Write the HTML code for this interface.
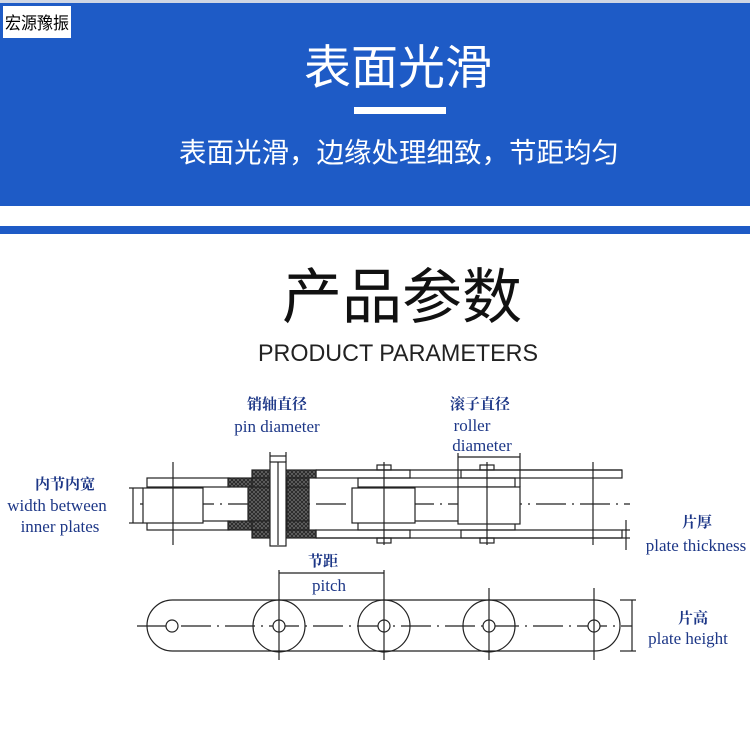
<!DOCTYPE html>
<html><head><meta charset="utf-8"><style>
html,body{margin:0;padding:0;background:#fff;width:750px;height:750px;overflow:hidden}
</style></head><body>
<svg width="750" height="750" viewBox="0 0 750 750" xmlns="http://www.w3.org/2000/svg">
<defs>
<pattern id="h" width="4" height="4" patternUnits="userSpaceOnUse">
<rect width="4" height="4" fill="#666"/><path d="M0 4L4 0M0 0L4 4" stroke="#222" stroke-width="0.8"/>
</pattern>
</defs>
<rect x="0" y="0" width="750" height="3" fill="#cfd6e4"/>
<rect x="0" y="3" width="750" height="203" fill="#1e5bc6"/>
<rect x="0" y="226" width="750" height="8" fill="#1e5bc6"/>
<rect x="3" y="6" width="68" height="32" fill="#fff"/>
<text x="37" y="29" font-size="17" text-anchor="middle" fill="#000" font-family="Liberation Sans,Noto Sans CJK SC,sans-serif" textLength="64" lengthAdjust="spacingAndGlyphs">宏源豫振</text>
<text x="398" y="84" font-size="47" text-anchor="middle" fill="#fff" font-family="Liberation Sans,Noto Sans CJK SC,sans-serif">表面光滑</text>
<rect x="354" y="107" width="92" height="7" fill="#fff"/>
<text x="399" y="162" font-size="27.5" text-anchor="middle" fill="#fff" font-family="Liberation Sans,Noto Sans CJK SC,sans-serif">表面光滑，边缘处理细致，节距均匀</text>
<text x="402" y="318" font-size="60" text-anchor="middle" fill="#111" font-family="Liberation Sans,Noto Sans CJK SC,sans-serif">产品参数</text>
<text x="398" y="361" font-size="24" text-anchor="middle" fill="#222" font-family="Liberation Sans,sans-serif" textLength="280" lengthAdjust="spacingAndGlyphs">PRODUCT PARAMETERS</text>

<g font-family="Liberation Serif,Noto Serif CJK SC,serif" fill="#1d3787" font-size="17" text-anchor="middle">
<text x="277" y="409" font-weight="bold" font-size="15">销轴直径</text>
<text x="277" y="432">pin diameter</text>
<text x="480" y="409" font-weight="bold" font-size="15">滚子直径</text>
<text x="472" y="431">roller</text>
<text x="482" y="451">diameter</text>
<text x="65" y="489" font-weight="bold" font-size="15">内节内宽</text>
<text x="57" y="511">width between</text>
<text x="60" y="532">inner plates</text>
<text x="697" y="527" font-weight="bold" font-size="15">片厚</text>
<text x="696" y="551">plate thickness</text>
<text x="323" y="566" font-weight="bold" font-size="15">节距</text>
<text x="329" y="591">pitch</text>
<text x="693" y="623" font-weight="bold" font-size="15">片高</text>
<text x="688" y="644">plate height</text>
</g>

<g stroke="#222" stroke-width="1.2" fill="none">
<line x1="140" y1="504" x2="630" y2="504" stroke-dasharray="30,6,2,6"/>
<rect x="316" y="470" width="94" height="8"/>
<line x1="316" y1="470" x2="622" y2="470"/>
<rect x="461" y="470" width="161" height="8"/>
<rect x="316" y="530" width="94" height="8"/>
<line x1="316" y1="538" x2="622" y2="538"/>
<rect x="461" y="530" width="161" height="8"/>
<rect x="147" y="478" width="82" height="9"/>
<rect x="147" y="521" width="82" height="9"/>
<rect x="358" y="478" width="157" height="9"/>
<rect x="358" y="521" width="157" height="9"/>
<rect x="143" y="488" width="60" height="35" fill="#fff"/>
<rect x="352" y="488" width="63" height="35" fill="#fff"/>
<rect x="458" y="487" width="62" height="37" fill="#fff"/>
<rect x="228" y="478" width="40" height="9" fill="url(#h)"/>
<rect x="228" y="521" width="40" height="9" fill="url(#h)"/>
<rect x="252" y="470" width="64" height="8" fill="url(#h)"/>
<rect x="252" y="530" width="64" height="8" fill="url(#h)"/>
<rect x="248" y="487" width="22" height="34" fill="url(#h)"/>
<rect x="287" y="487" width="22" height="34" fill="url(#h)"/>
<rect x="252" y="478" width="18" height="9" fill="url(#h)"/>
<rect x="287" y="478" width="22" height="9" fill="url(#h)"/>
<rect x="252" y="521" width="18" height="9" fill="url(#h)"/>
<rect x="287" y="521" width="22" height="9" fill="url(#h)"/>
<rect x="270" y="462" width="16" height="84" fill="#fff"/>
<line x1="173" y1="462" x2="173" y2="545"/>
<line x1="278" y1="462" x2="278" y2="545"/>
<line x1="384" y1="462" x2="384" y2="545"/>
<line x1="487" y1="462" x2="487" y2="545"/>
<line x1="593" y1="462" x2="593" y2="545"/>
<rect x="377" y="465" width="14" height="5"/><rect x="377" y="538" width="14" height="5"/>
<rect x="480" y="465" width="14" height="5"/><rect x="480" y="538" width="14" height="5"/>
<line x1="133" y1="488" x2="133" y2="523"/><line x1="129" y1="488" x2="143" y2="488"/><line x1="129" y1="523" x2="143" y2="523"/>
<line x1="270" y1="456" x2="286" y2="456"/><line x1="270" y1="452" x2="270" y2="462"/><line x1="286" y1="452" x2="286" y2="462"/>
<line x1="458" y1="457" x2="520" y2="457"/><line x1="458" y1="453" x2="458" y2="487"/><line x1="520" y1="453" x2="520" y2="487"/>
<line x1="626" y1="520" x2="626" y2="550"/><line x1="622" y1="530" x2="630" y2="530"/><line x1="622" y1="538" x2="630" y2="538"/>

<!-- bottom view -->
<rect x="147" y="600" width="473" height="51" rx="25.5"/>
<circle cx="279" cy="626" r="26"/>
<circle cx="384" cy="626" r="26"/>
<circle cx="489" cy="626" r="26"/>
<line x1="137" y1="626" x2="632" y2="626" stroke-dasharray="30,6,2,6"/>
<circle cx="172" cy="626" r="6" fill="#fff"/><circle cx="279" cy="626" r="6" fill="#fff"/><circle cx="384" cy="626" r="6" fill="#fff"/><circle cx="489" cy="626" r="6" fill="#fff"/><circle cx="594" cy="626" r="6" fill="#fff"/>
<line x1="279" y1="570" x2="279" y2="660"/>
<line x1="384" y1="570" x2="384" y2="660"/>
<line x1="489" y1="588" x2="489" y2="660"/>
<line x1="594" y1="588" x2="594" y2="660"/>
<line x1="279" y1="573" x2="384" y2="573"/>
<line x1="632" y1="600" x2="632" y2="651"/><line x1="620" y1="600" x2="636" y2="600"/><line x1="620" y1="651" x2="636" y2="651"/>
</g>
</svg>
</body></html>
